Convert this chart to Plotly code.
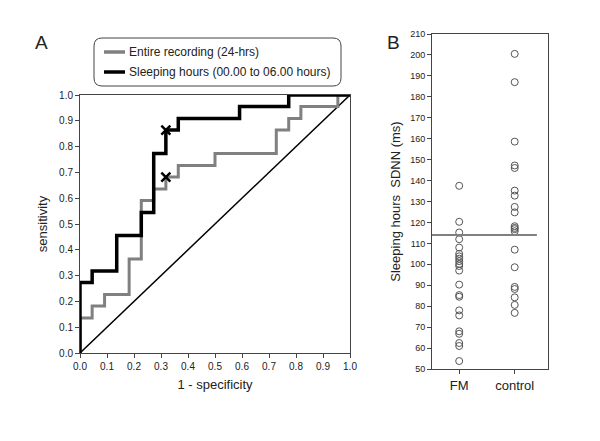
import plotly.graph_objects as go

# ROC curves
entire_fpr = [0, 0, 0.045, 0.091, 0.182, 0.227, 0.273, 0.318, 0.364, 0.5, 0.727, 0.773, 0.818, 0.955, 1.0]
entire_tpr = [0, 0.136, 0.182, 0.227, 0.364, 0.591, 0.636, 0.682, 0.727, 0.773, 0.864, 0.909, 0.955, 1.0, 1.0]
sleep_fpr = [0, 0, 0.045, 0.136, 0.227, 0.273, 0.318, 0.364, 0.591, 0.773, 1.0]
sleep_tpr = [0, 0.273, 0.318, 0.455, 0.545, 0.773, 0.864, 0.909, 0.955, 1.0, 1.0]
cut_fpr = [0.318, 0.318]
cut_tpr = [0.864, 0.682]

# SDNN during sleeping hours
fm_sdnn = [137.5, 120.3, 115.2, 112, 108, 105, 103.8, 102.7, 101.5, 100.2, 99.2, 97,
           90.3, 85.3, 84.5, 78, 75.6, 68, 66.8, 62.4, 61, 53.8]
control_sdnn = [200.5, 187, 158.6, 147.2, 146, 135.2, 132.8, 127.4, 124.8, 118.2, 117.4,
                116.8, 115.8, 107, 98.6, 89.2, 88.2, 84.2, 80.6, 76.8]
cutoff = 114

legend_names = ["Entire recording (24-hrs)", "Sleeping hours (00.00 to 06.00 hours)"]
legend_colors = ["#808080", "black"]

W, H, OFF = 600, 441, 8  # page body margin shifts the figure by 8px


def px(x):
    return (x - OFF) / W


def py(y):
    return 1 - (y - OFF) / H


font = "Liberation Sans, Arial, sans-serif"
fig = go.Figure()

fig.add_trace(go.Scatter(x=[0, 1], y=[0, 1], mode="lines", line=dict(color="black", width=1.5)))
fig.add_trace(go.Scatter(x=entire_fpr, y=entire_tpr, mode="lines", line_shape="hv",
                         line=dict(color=legend_colors[0], width=3)))
fig.add_trace(go.Scatter(x=sleep_fpr, y=sleep_tpr, mode="lines", line_shape="hv",
                         line=dict(color=legend_colors[1], width=3.5)))
fig.add_trace(go.Scatter(x=cut_fpr, y=cut_tpr, mode="markers",
                         marker=dict(symbol="x-thin", size=9, line=dict(color="black", width=2.5))))

# panel B
fig.add_trace(go.Scatter(x=[0] * len(fm_sdnn), y=fm_sdnn, mode="markers",
                         marker=dict(symbol="circle-open", size=7, color="#555555", line=dict(width=1)),
                         xaxis="x2", yaxis="y2"))
fig.add_trace(go.Scatter(x=[1] * len(control_sdnn), y=control_sdnn, mode="markers",
                         marker=dict(symbol="circle-open", size=7, color="#555555", line=dict(width=1)),
                         xaxis="x2", yaxis="y2"))
fig.add_trace(go.Scatter(x=[-0.49, 1.4], y=[cutoff, cutoff], mode="lines",
                         line=dict(color="#808080", width=2), xaxis="x2", yaxis="y2"))

ax = dict(showgrid=False, zeroline=False, showline=True, linecolor="#444", linewidth=1,
          mirror=True, ticks="outside", ticklen=4, tickcolor="#444", automargin=False,
          tickfont=dict(size=10, color="#222"))

# hand-drawn legend box (rounded) with short line samples
x0, x1, y0, y1, r = px(94), px(341), py(38), py(86), 8
rx, ry = r / W, r / H
shapes = [dict(type="path", xref="paper", yref="paper", line=dict(color="#444", width=1),
               path=(f"M {x0 + rx},{y0} L {x1 - rx},{y0} Q {x1},{y0} {x1},{y0 - ry} "
                     f"L {x1},{y1 + ry} Q {x1},{y1} {x1 - rx},{y1} L {x0 + rx},{y1} "
                     f"Q {x0},{y1} {x0},{y1 + ry} L {x0},{y0 - ry} Q {x0},{y0} {x0 + rx},{y0} Z"))]
annotations = [
    dict(text="A", x=px(41), y=py(42), xref="paper", yref="paper", showarrow=False,
         xanchor="center", yanchor="middle", font=dict(size=19, color="#222")),
    dict(text="B", x=px(393), y=py(42), xref="paper", yref="paper", showarrow=False,
         xanchor="center", yanchor="middle", font=dict(size=19, color="#222")),
]
for i, (name, col) in enumerate(zip(legend_names, legend_colors)):
    ypos = py(52 + 20 * i)
    shapes.append(dict(type="line", xref="paper", yref="paper", x0=px(104), x1=px(125),
                       y0=ypos, y1=ypos, line=dict(color=col, width=3.5)))
    annotations.append(dict(text=name, x=px(127), y=ypos, xref="paper", yref="paper",
                            xanchor="left", yanchor="middle", showarrow=False,
                            font=dict(size=12, color="#222")))

fig.update_layout(
    width=W, height=H, margin=dict(l=0, r=0, t=0, b=0),
    paper_bgcolor="white", plot_bgcolor="white", showlegend=False,
    font=dict(family=font, color="#222"),
    xaxis=dict(ax, domain=[px(80), px(350)], range=[0, 1], dtick=0.1, tickformat=".1f",
               title=dict(text="1 - specificity", font=dict(size=13), standoff=8)),
    yaxis=dict(ax, domain=[py(353), py(95)], range=[0, 1], dtick=0.1, tickformat=".1f",
               title=dict(text="sensitivity", font=dict(size=13), standoff=8)),
    xaxis2=dict(ax, domain=[px(432), px(548)], range=[-0.49, 1.6], anchor="y2",
                tickvals=[0, 1], ticktext=["FM", "control"], tickfont=dict(size=13, color="#222")),
    yaxis2=dict(ax, domain=[py(369), py(34)], range=[50, 210], dtick=10, anchor="x2",
                tickfont=dict(size=9, color="#222"),
                title=dict(text="Sleeping hours  SDNN (ms)", font=dict(size=13), standoff=6)),
    shapes=shapes,
    annotations=annotations,
)

fig.write_html("out.html")
